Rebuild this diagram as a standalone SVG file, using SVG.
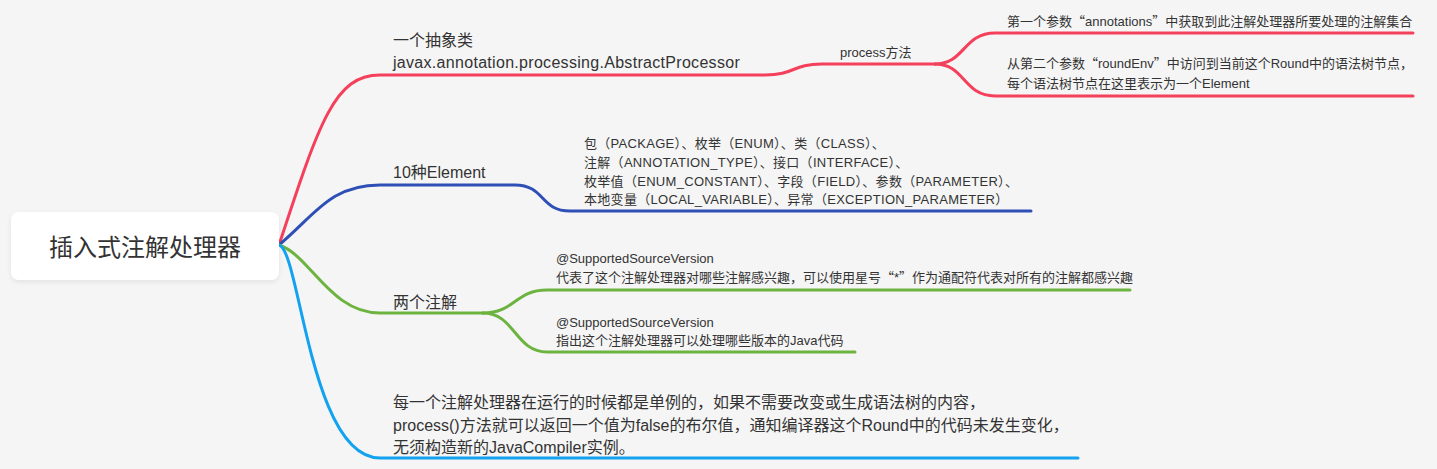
<svg xmlns="http://www.w3.org/2000/svg" width="1437" height="469" viewBox="0 0 1437 469">
  <defs>
    <filter id="shadow" x="-10%" y="-20%" width="120%" height="150%">
      <feDropShadow dx="0" dy="2" stdDeviation="2.5" flood-color="#000" flood-opacity="0.08"/>
    </filter>
    <style>
      text { font-family: "Liberation Sans", "Noto Sans CJK SC", sans-serif; fill: #333; }
      .root { font-size: 24px; font-family: "Noto Sans CJK SC", sans-serif; }
      .main { font-size: 16px; }
      .sub { font-size: 13px; }
      .wide { letter-spacing: 0.3px; }
      .q { font-family: "Noto Sans CJK SC", sans-serif; }
      .conn { fill: none; stroke-width: 3; stroke-linecap: round; }
      .red { stroke: #f5405c; }
      .blue { stroke: #2e4fb6; }
      .green { stroke: #6db33f; }
      .sky { stroke: #12a2f0; }
    </style>
  </defs>
  <rect width="1437" height="469" fill="#f5f5f5"/>

  <g id="connectors">
    <path class="conn red" d="M279,245 C320,120 335,75 380,75 H765 C795,75 792,64 822,64 H935"/>
    <path class="conn red" d="M935,64 C965,64 963,33 995,33 H1413"/>
    <path class="conn red" d="M935,64 C965,64 963,96 995,96 H1413"/>
    <path class="conn blue" d="M279,245 C315,215 330,185 380,185 H515 C545,185 540,211 570,211 H1031"/>
    <path class="conn green" d="M279,245 C310,255 330,313 380,313 H483"/>
    <path class="conn green" d="M483,313 C515,313 515,290 547,290 H1130"/>
    <path class="conn green" d="M483,313 C515,313 515,352 547,352 H855"/>
    <path class="conn sky" d="M279,245 C300,250 310,458 380,458 H1078"/>
  </g>

  <g id="root">
    <rect x="11" y="212" width="268" height="68" rx="8" fill="#ffffff" filter="url(#shadow)"/>
    <text class="root" x="145" y="256" text-anchor="middle">插入式注解处理器</text>
  </g>

  <g id="abstract-processor">
    <text class="main" x="393" y="46">一个抽象类</text>
    <text class="main wide" x="393" y="68">javax.annotation.processing.AbstractProcessor</text>
  </g>

  <g id="process-method">
    <text class="sub" x="840" y="57">process方法</text>
  </g>

  <g id="annotations-param">
    <text class="sub" x="1007" y="25.5">第一个参数<tspan class="q">“</tspan>annotations<tspan class="q">”</tspan>中获取到此注解处理器所要处理的注解集合</text>
  </g>

  <g id="roundenv-param">
    <text class="sub" x="1007" y="68">从第二个参数<tspan class="q">“</tspan>roundEnv<tspan class="q">”</tspan>中访问到当前这个Round中的语法树节点，</text>
    <text class="sub" x="1007" y="88">每个语法树节点在这里表示为一个Element</text>
  </g>

  <g id="ten-elements">
    <text class="main" x="393" y="177.5">10种Element</text>
  </g>

  <g id="element-list">
    <text class="sub wide" x="584" y="148.3">包（PACKAGE）、枚举（ENUM）、类（CLASS）、</text>
    <text class="sub wide" x="584" y="167">注解（ANNOTATION_TYPE）、接口（INTERFACE）、</text>
    <text class="sub wide" x="584" y="185.7">枚举值（ENUM_CONSTANT）、字段（FIELD）、参数（PARAMETER）、</text>
    <text class="sub wide" x="584" y="204.3">本地变量（LOCAL_VARIABLE）、异常（EXCEPTION_PARAMETER）</text>
  </g>

  <g id="two-annotations">
    <text class="main" x="393" y="307.5">两个注解</text>
  </g>

  <g id="annotation-1">
    <text class="sub" x="556" y="263.3">@SupportedSourceVersion</text>
    <text class="sub" x="556" y="281.7">代表了这个注解处理器对哪些注解感兴趣，可以使用星号<tspan class="q">“</tspan>*<tspan class="q">”</tspan>作为通配符代表对所有的注解都感兴趣</text>
  </g>

  <g id="annotation-2">
    <text class="sub" x="556" y="326.7">@SupportedSourceVersion</text>
    <text class="sub" x="556" y="345">指出这个注解处理器可以处理哪些版本的Java代码</text>
  </g>

  <g id="singleton-note">
    <text class="main" x="393" y="407.7">每一个注解处理器在运行的时候都是单例的，如果不需要改变或生成语法树的内容，</text>
    <text class="main" x="393" y="430.5">process()方法就可以返回一个值为false的布尔值，通知编译器这个Round中的代码未发生变化，</text>
    <text class="main" x="393" y="453">无须构造新的JavaCompiler实例。</text>
  </g>
</svg>
